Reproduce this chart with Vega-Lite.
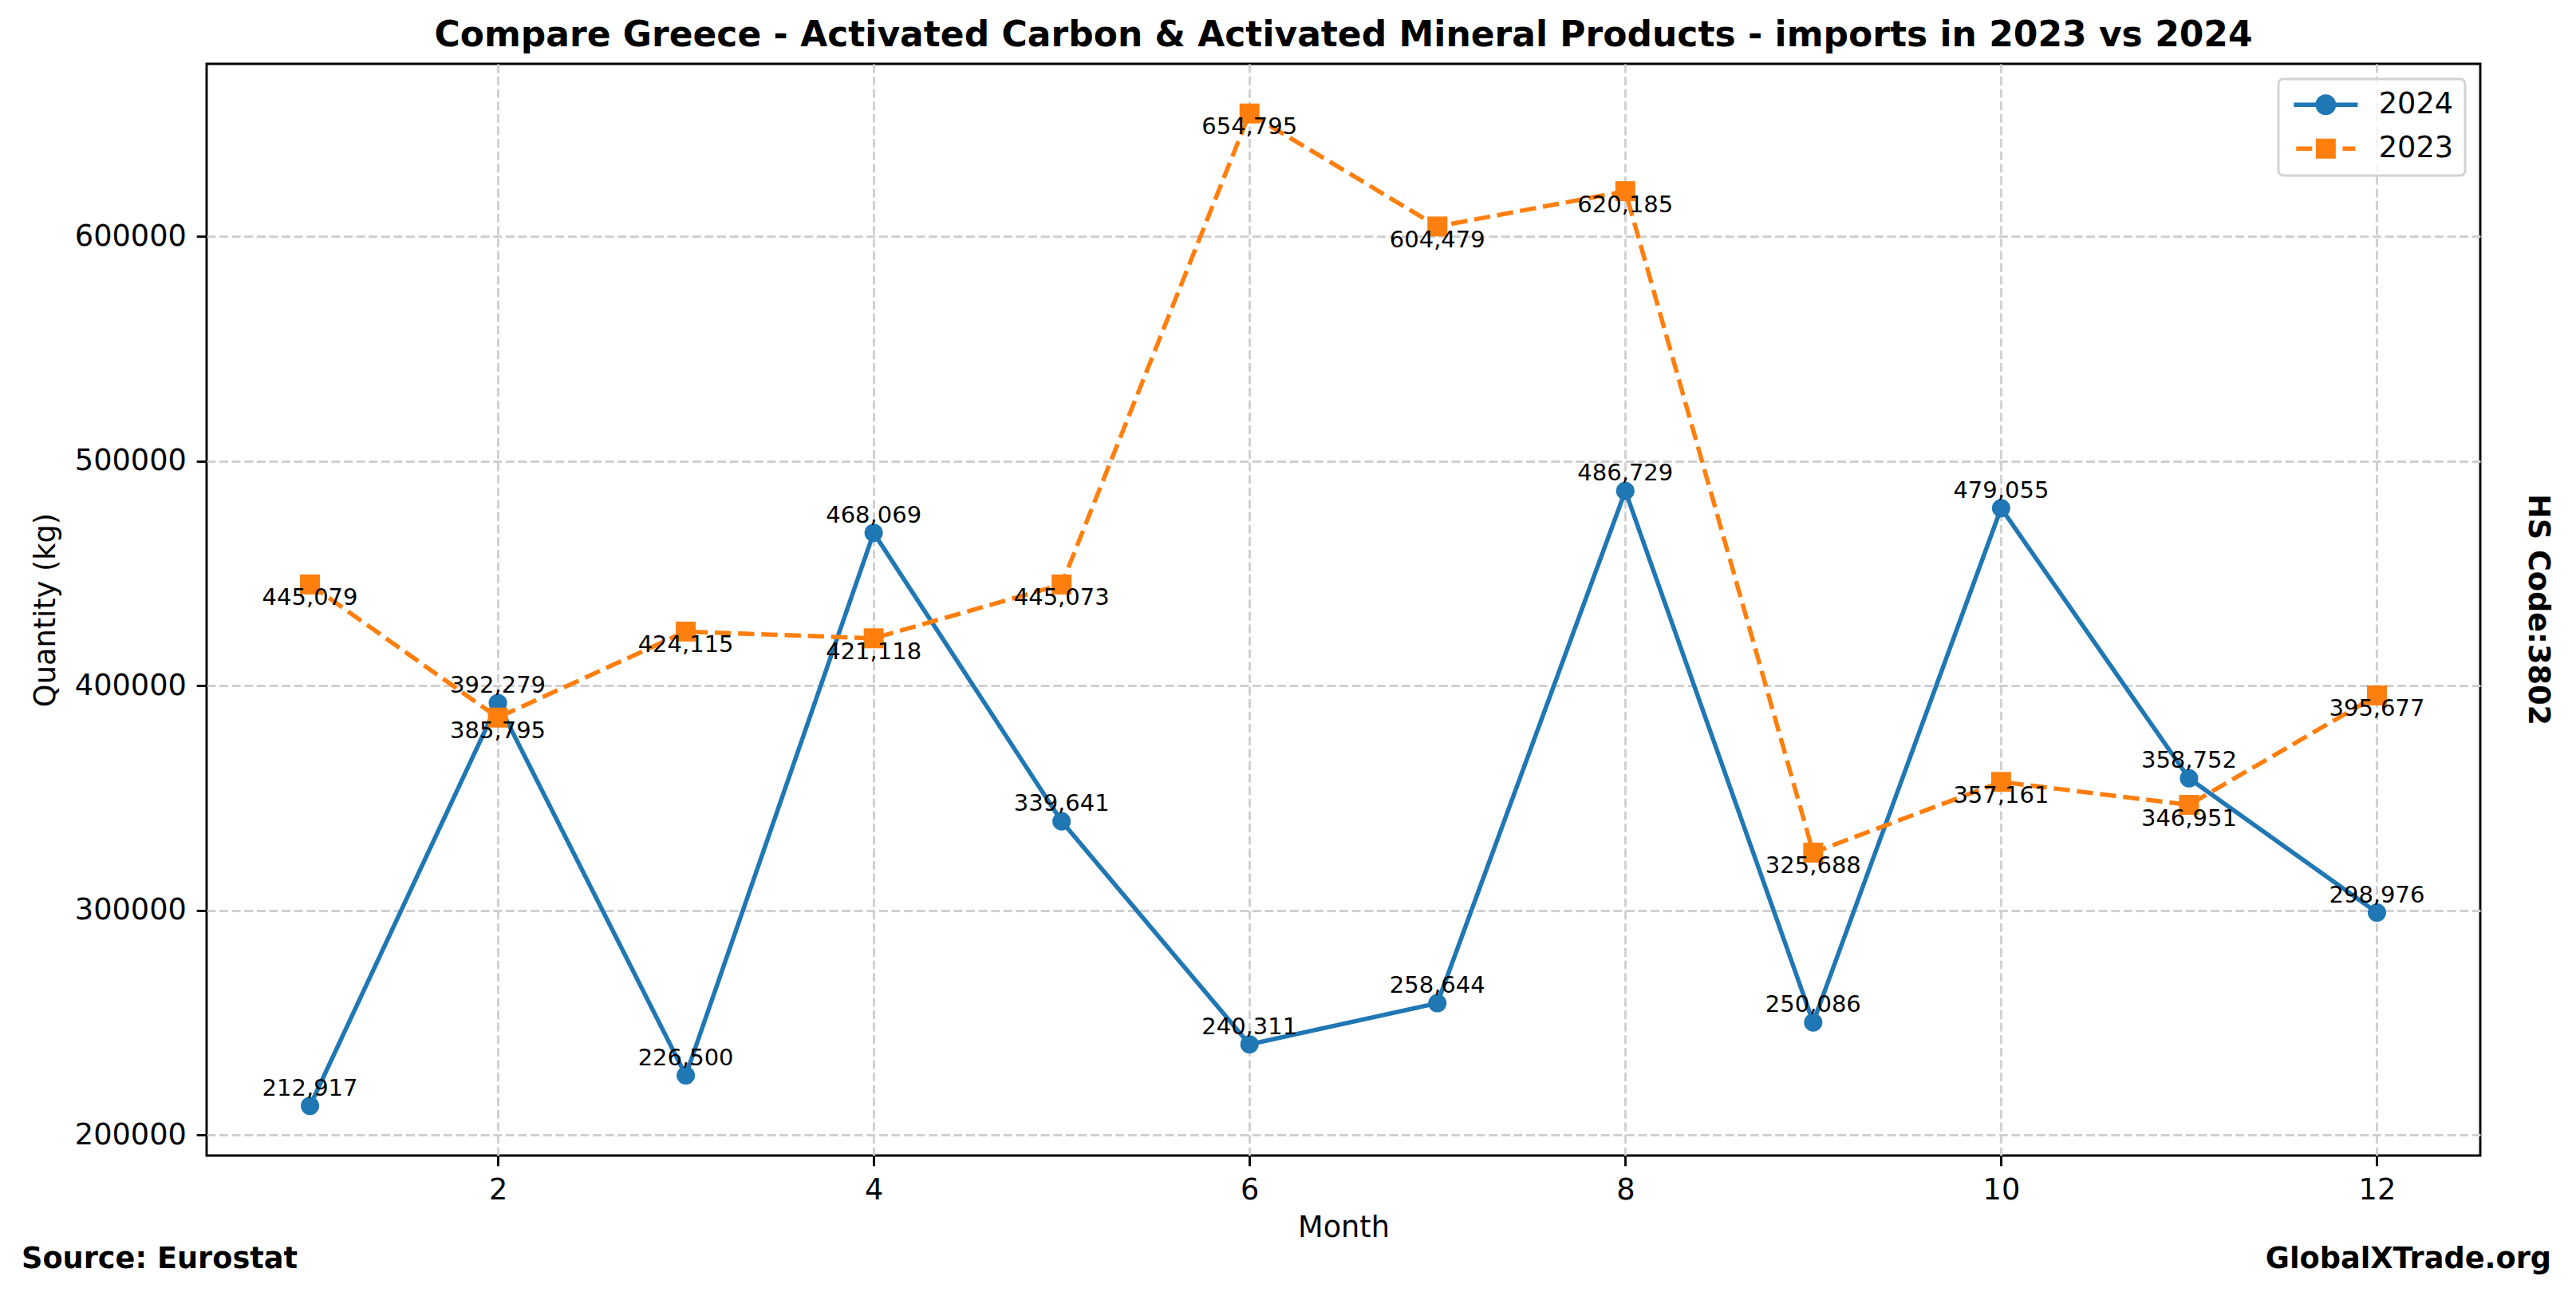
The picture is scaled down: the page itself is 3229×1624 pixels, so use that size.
{
  "$schema": "https://vega.github.io/schema/vega-lite/v6.json",
  "autosize": {"type": "none"},
  "padding": {"left": 259, "top": 80, "right": 120, "bottom": 176},
  "width": 2850,
  "height": 1368,
  "background": "white",
  "title": {
    "text": "Compare Greece - Activated Carbon & Activated Mineral Products - imports in 2023 vs 2024",
    "fontSize": 44,
    "fontWeight": "bold",
    "font": "DejaVu Sans",
    "color": "black",
    "anchor": "middle",
    "baseline": "alphabetic",
    "offset": -22
  },
  "data": {
    "values": [
      {"month": 1, "year": "2024", "value": 212917},
      {"month": 2, "year": "2024", "value": 392279},
      {"month": 3, "year": "2024", "value": 226500},
      {"month": 4, "year": "2024", "value": 468069},
      {"month": 5, "year": "2024", "value": 339641},
      {"month": 6, "year": "2024", "value": 240311},
      {"month": 7, "year": "2024", "value": 258644},
      {"month": 8, "year": "2024", "value": 486729},
      {"month": 9, "year": "2024", "value": 250086},
      {"month": 10, "year": "2024", "value": 479055},
      {"month": 11, "year": "2024", "value": 358752},
      {"month": 12, "year": "2024", "value": 298976},
      {"month": 1, "year": "2023", "value": 445079},
      {"month": 2, "year": "2023", "value": 385795},
      {"month": 3, "year": "2023", "value": 424115},
      {"month": 4, "year": "2023", "value": 421118},
      {"month": 5, "year": "2023", "value": 445073},
      {"month": 6, "year": "2023", "value": 654795},
      {"month": 7, "year": "2023", "value": 604479},
      {"month": 8, "year": "2023", "value": 620185},
      {"month": 9, "year": "2023", "value": 325688},
      {"month": 10, "year": "2023", "value": 357161},
      {"month": 11, "year": "2023", "value": 346951},
      {"month": 12, "year": "2023", "value": 395677}
    ]
  },
  "layer": [
    {
      "transform": [{"filter": "datum.year === '2024'"}],
      "mark": {"type": "line", "strokeWidth": 5.5},
      "encoding": {
        "x": {
          "field": "month",
          "type": "quantitative",
          "scale": {"domain": [0.45, 12.55], "nice": false, "zero": false},
          "axis": {"title": "Month", "values": [2, 4, 6, 8, 10, 12], "format": "d", "titlePadding": 10}
        },
        "y": {
          "field": "value",
          "type": "quantitative",
          "scale": {"domain": [190800, 676900], "nice": false, "zero": false},
          "axis": {"title": "Quantity (kg)", "values": [200000, 300000, 400000, 500000, 600000], "format": "d", "titlePadding": 17}
        },
        "color": {
          "field": "year",
          "type": "nominal",
          "scale": {"domain": ["2024", "2023"], "range": ["#1f77b4", "#ff7f0e"]},
          "legend": {
            "title": null,
            "orient": "top-right",
            "offset": 19,
            "padding": 14,
            "symbolSize": 676,
            "symbolStrokeWidth": 0,
            "symbolOffset": 27,
            "labelOffset": 48,
            "labelFontSize": 36.7,
            "labelColor": "black",
            "rowPadding": 17,
            "strokeColor": "#d2d2d2",
            "cornerRadius": 6,
            "fillColor": "rgba(255,255,255,0.8)",
            "encode": {
              "symbols": {
                "update": {
                  "shape": {"signal": "datum.value === '2024' ? 'M-3.08,-0.21L-0.95,-0.21L-0.95,0.21L-3.08,0.21Z M0.95,-0.21L3.08,-0.21L3.08,0.21L0.95,0.21Z M-1,0A1,1,0,1,1,1,0A1,1,0,1,1,-1,0Z' : 'M-2.85,-0.21L-1.31,-0.21L-1.31,0.21L-2.85,0.21Z M-0.96,-0.96L0.96,-0.96L0.96,0.96L-0.96,0.96Z M1.62,-0.21L2.85,-0.21L2.85,0.21L1.62,0.21Z'"},
                  "fill": {"scale": "color", "field": "value"},
                  "stroke": {"value": "transparent"},
                  "strokeWidth": {"value": 0},
                  "opacity": {"value": 1}
                }
              }
            }
          }
        }
      }
    },
    {
      "transform": [{"filter": "datum.year === '2024'"}],
      "mark": {"type": "point", "shape": "circle", "filled": true, "opacity": 1, "size": 531},
      "encoding": {
        "x": {"field": "month", "type": "quantitative"},
        "y": {"field": "value", "type": "quantitative"},
        "color": {"field": "year", "type": "nominal"}
      }
    },
    {
      "transform": [{"filter": "datum.year === '2023'"}],
      "mark": {"type": "line", "strokeWidth": 5.5, "strokeDash": [20.4, 8.8]},
      "encoding": {
        "x": {"field": "month", "type": "quantitative"},
        "y": {"field": "value", "type": "quantitative"},
        "color": {"field": "year", "type": "nominal"}
      }
    },
    {
      "transform": [{"filter": "datum.year === '2023'"}],
      "mark": {"type": "point", "shape": "square", "filled": true, "opacity": 1, "size": 625},
      "encoding": {
        "x": {"field": "month", "type": "quantitative"},
        "y": {"field": "value", "type": "quantitative"},
        "color": {"field": "year", "type": "nominal"}
      }
    },
    {
      "transform": [{"filter": "datum.year === '2024'"}],
      "mark": {"type": "text", "baseline": "bottom", "align": "center", "dy": -7, "fontSize": 29, "font": "DejaVu Sans", "fill": "black"},
      "encoding": {
        "x": {"field": "month", "type": "quantitative"},
        "y": {"field": "value", "type": "quantitative"},
        "text": {"field": "value", "type": "quantitative", "format": ",d"}
      }
    },
    {
      "transform": [{"filter": "datum.year === '2023'"}],
      "mark": {"type": "text", "baseline": "top", "align": "center", "dy": 3, "fontSize": 29, "font": "DejaVu Sans", "fill": "black"},
      "encoding": {
        "x": {"field": "month", "type": "quantitative"},
        "y": {"field": "value", "type": "quantitative"},
        "text": {"field": "value", "type": "quantitative", "format": ",d"}
      }
    },
    {
      "data": {"values": [{"label": "Source: Eurostat"}]},
      "mark": {"type": "text", "align": "left", "baseline": "middle", "fontSize": 36.7, "fontWeight": "bold", "font": "DejaVu Sans", "fill": "black", "clip": false},
      "encoding": {
        "x": {"datum": -0.535, "type": "quantitative"},
        "y": {"datum": 144610, "type": "quantitative"},
        "text": {"field": "label", "type": "nominal"}
      }
    },
    {
      "data": {"values": [{"label": "GlobalXTrade.org"}]},
      "mark": {"type": "text", "align": "right", "baseline": "middle", "fontSize": 36.7, "fontWeight": "bold", "font": "DejaVu Sans", "fill": "black", "clip": false},
      "encoding": {
        "x": {"datum": 12.928, "type": "quantitative"},
        "y": {"datum": 144610, "type": "quantitative"},
        "text": {"field": "label", "type": "nominal"}
      }
    },
    {
      "data": {"values": [{"label": "HS Code:3802"}]},
      "mark": {"type": "text", "align": "center", "baseline": "middle", "angle": 90, "fontSize": 36.7, "fontWeight": "bold", "font": "DejaVu Sans", "fill": "black", "clip": false},
      "encoding": {
        "x": {"datum": 12.856, "type": "quantitative"},
        "y": {"datum": 433850, "type": "quantitative"},
        "text": {"field": "label", "type": "nominal"}
      }
    }
  ],
  "config": {
    "font": "DejaVu Sans",
    "view": {"stroke": "black", "strokeWidth": 2.9},
    "axis": {
      "domain": false,
      "grid": true,
      "gridColor": "#d0d0d0",
      "gridWidth": 2.9,
      "gridDash": [10.9, 4.7],
      "ticks": true,
      "tickSize": 12.8,
      "tickWidth": 2.9,
      "tickColor": "black",
      "labelFontSize": 36.7,
      "labelFont": "DejaVu Sans",
      "labelColor": "black",
      "labelPadding": 12.8,
      "titleFontSize": 36.7,
      "titleFont": "DejaVu Sans",
      "titleFontWeight": "normal",
      "titleColor": "black"
    },
    "legend": {"labelFont": "DejaVu Sans", "strokeWidth": 2.9}
  }
}
